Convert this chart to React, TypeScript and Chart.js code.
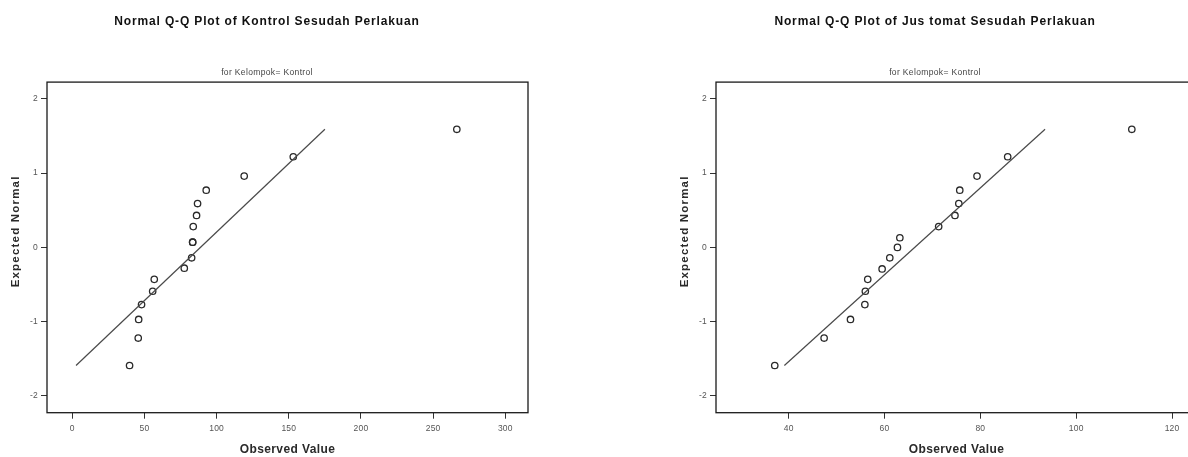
import React, { useEffect, useRef } from "react";
import { Chart, registerables } from "chart.js";

Chart.register(...registerables);

// ---- data ----
const Y_TICKS = [-2, -1, 0, 1, 2];

const KONTROL_OBSERVED = [39.7, 45.7, 46.0, 48.0, 55.7, 56.8, 77.6, 82.7, 83.4, 83.4, 83.8, 86.1, 86.8, 92.8, 119.1, 153.1, 266.4];
const KONTROL_EXPECTED = [-1.59, -1.22, -0.97, -0.77, -0.59, -0.43, -0.28, -0.14, 0.07, 0.07, 0.28, 0.43, 0.59, 0.77, 0.96, 1.22, 1.59];
const KONTROL_LINE_X = [2.6, 175.0];
const KONTROL_LINE_Y = [-1.59, 1.59];
const KONTROL_X_TICKS = [0, 50, 100, 150, 200, 250, 300];

const JUS_OBSERVED = [37.1, 47.4, 52.9, 55.9, 56.0, 56.5, 59.5, 61.1, 62.7, 63.2, 71.3, 74.7, 75.5, 75.7, 79.3, 85.7, 111.6];
const JUS_EXPECTED = [-1.59, -1.22, -0.97, -0.77, -0.59, -0.43, -0.29, -0.14, 0.0, 0.13, 0.28, 0.43, 0.59, 0.77, 0.96, 1.22, 1.59];
const JUS_LINE_X = [39.1, 93.5];
const JUS_LINE_Y = [-1.59, 1.59];
const JUS_X_TICKS = [40, 60, 80, 100, 120];

const TITLE_KONTROL = "Normal Q-Q Plot of Kontrol Sesudah Perlakuan";
const TITLE_JUS = "Normal Q-Q Plot of Jus tomat Sesudah Perlakuan";
const SUBTITLE = "for Kelompok= Kontrol";
const X_TITLE = "Observed Value";
const Y_TITLE = "Expected Normal";

const FONT = "'Liberation Sans', Arial, sans-serif";

type Props = {
  title: string;
  observed: number[];
  expected: number[];
  lineX: number[];
  lineY: number[];
  xTicks: number[];
  xMin: number;
  xMax: number;
  left: number;
  width: number;
  padRight: number;
  titleDx: number;
};

const framePlugin = {
  id: "frame",
  afterDraw(chart: any) {
    const { ctx, chartArea } = chart;
    ctx.save();
    ctx.strokeStyle = "#1a1a1a";
    ctx.lineWidth = 1.3;
    ctx.strokeRect(chartArea.left, chartArea.top, chartArea.right - chartArea.left, chartArea.bottom - chartArea.top);
    ctx.restore();
  },
};

function QQChart(p: Props) {
  const ref = useRef<HTMLCanvasElement | null>(null);
  useEffect(() => {
    if (!ref.current) return;
    const points = p.observed.map((x, i) => ({ x, y: p.expected[i] }));
    const line = p.lineX.map((x, i) => ({ x, y: p.lineY[i] }));
    const chart = new Chart(ref.current, {
      type: "scatter",
      data: {
        datasets: [
          {
            data: line,
            showLine: true,
            borderColor: "#4a4a4a",
            borderWidth: 1.2,
            pointRadius: 0,
            fill: false,
          },
          {
            data: points,
            showLine: false,
            pointStyle: "circle",
            pointRadius: 3.2,
            pointBorderWidth: 1.3,
            pointBorderColor: "#2a2a2a",
            pointBackgroundColor: "rgba(0,0,0,0)",
          },
        ],
      },
      options: {
        animation: false,
        responsive: false,
        devicePixelRatio: 1,
        layout: { padding: { left: 0, right: p.padRight, top: 0, bottom: 0 } },
        plugins: {
          legend: { display: false },
          tooltip: { enabled: false },
          title: {
            display: true,
            text: p.title,
            color: "#111",
            font: { family: FONT, size: 12, weight: "bold" },
            padding: { top: 14.5, bottom: 0 },
          },
          subtitle: {
            display: true,
            text: SUBTITLE,
            color: "#444",
            font: { family: FONT, size: 8.5, weight: "normal" },
            padding: { top: 38.7, bottom: 4.3 },
          },
        },
        scales: {
          x: {
            type: "linear",
            min: p.xMin,
            max: p.xMax,
            afterBuildTicks: (axis: any) => {
              axis.ticks = p.xTicks.map((v) => ({ value: v }));
            },
            afterFit: (s: any) => {
              s.height = 44.3;
            },
            grid: { display: true, drawOnChartArea: false, drawTicks: true, tickLength: 6, color: "#333", lineWidth: 1 },
            border: { display: false },
            ticks: {
              color: "#555",
              padding: 5,
              maxRotation: 0,
              autoSkip: false,
              font: { family: FONT, size: 8.5 },
              callback: (v: any) => String(v),
            },
            title: {
              display: true,
              text: X_TITLE,
              color: "#2a2a2a",
              font: { family: FONT, size: 12, weight: "bold" },
              padding: { top: 0, bottom: 0 },
            },
          },
          y: {
            type: "linear",
            min: -2.225,
            max: 2.225,
            afterBuildTicks: (axis: any) => {
              axis.ticks = Y_TICKS.map((v) => ({ value: v }));
            },
            afterFit: (s: any) => {
              s.width = 47;
            },
            grid: { display: true, drawOnChartArea: false, drawTicks: true, tickLength: 6, color: "#333", lineWidth: 1 },
            border: { display: false },
            ticks: {
              color: "#555",
              padding: 3,
              autoSkip: false,
              font: { family: FONT, size: 8.5 },
              callback: (v: any) => String(v),
            },
            title: {
              display: true,
              text: Y_TITLE,
              color: "#2a2a2a",
              font: { family: FONT, size: 11.5, weight: "bold" },
              padding: { top: 9.3, bottom: 0 },
            },
          },
        },
      },
      plugins: [framePlugin],
    } as any);

    const ctx: any = chart.ctx;
    const styled = (fn: any, spacing: string, dx: number, dy: number) =>
      function (this: any, ...args: any[]) {
        ctx.save();
        ctx.letterSpacing = spacing;
        ctx.translate(dx, dy);
        const r = fn.apply(this, args);
        ctx.restore();
        return r;
      };
    (chart as any).boxes.forEach((b: any) => {
      if (b.options && b.options.text === p.title) b.draw = styled(b.draw, "0.85px", p.titleDx, 0);
      else if (b.options && b.options.text === SUBTITLE) b.draw = styled(b.draw, "0.35px", p.titleDx, 0);
    });
    const xs: any = chart.scales.x;
    const ys: any = chart.scales.y;
    xs.drawTitle = styled(xs.drawTitle, "0.4px", 0, 0);
    xs.drawLabels = styled(xs.drawLabels, "0.2px", 0, 0);
    ys.drawTitle = styled(ys.drawTitle, "1.2px", 0, -16);
    ys.drawLabels = styled(ys.drawLabels, "0.2px", 0, 0);
    chart.draw();

    return () => chart.destroy();
  }, []);
  return (
    <canvas
      ref={ref}
      width={p.width}
      height={457}
      style={{ position: "absolute", left: p.left, top: 0, width: p.width, height: 457 }}
    />
  );
}

export default function App() {
  return (
    <div
      style={{
        position: "fixed",
        left: 0,
        top: 0,
        width: 1188,
        height: 457,
        overflow: "hidden",
        background: "#fff",
      }}
    >
      <QQChart
        title={TITLE_KONTROL}
        observed={KONTROL_OBSERVED}
        expected={KONTROL_EXPECTED}
        lineX={KONTROL_LINE_X}
        lineY={KONTROL_LINE_Y}
        xTicks={KONTROL_X_TICKS}
        xMin={-17.5}
        xMax={315.7}
        left={0}
        width={594}
        padRight={66}
        titleDx={3}
      />
      <QQChart
        title={TITLE_JUS}
        observed={JUS_OBSERVED}
        expected={JUS_EXPECTED}
        lineX={JUS_LINE_X}
        lineY={JUS_LINE_Y}
        xTicks={JUS_X_TICKS}
        xMin={24.84}
        xMax={125.2}
        left={669}
        width={540}
        padRight={12}
        titleDx={2}
      />
    </div>
  );
}
